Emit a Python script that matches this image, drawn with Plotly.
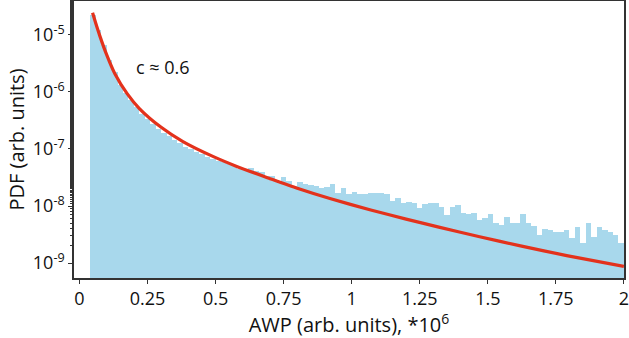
import plotly.graph_objects as go

# Histogram: left edges start at 0.04, bin width 0.02, up to 2.0
bin_start = 0.04
bin_width = 0.02
pdf_values = [
    2.24e-5, 1.23e-5, 6.6e-6, 3.6e-6, 2.24e-6, 1.32e-6, 9.5e-7, 7.2e-7, 5.5e-7, 4.1e-7,
    3.4e-7, 2.75e-7, 2.24e-7, 1.9e-7, 1.7e-7, 1.45e-7, 1.29e-7, 1.1e-7, 1.0e-7, 8.9e-8,
    8.1e-8, 7.2e-8, 6.6e-8, 6.2e-8, 5.9e-8, 5.5e-8, 5.3e-8, 4.5e-8, 4.3e-8, 4.7e-8,
    4.1e-8, 4.0e-8, 3.4e-8, 3.4e-8, 2.75e-8, 3.2e-8, 2.75e-8, 2.24e-8, 2.6e-8, 2.45e-8,
    2.35e-8, 2.24e-8, 2.1e-8, 2.15e-8, 2.45e-8, 1.7e-8, 2.1e-8, 1.62e-8, 1.78e-8, 1.62e-8,
    1.62e-8, 1.66e-8, 1.7e-8, 1.7e-8, 1.62e-8, 1.23e-8, 1.38e-8, 1.12e-8, 1.17e-8, 1.12e-8,
    9.1e-9, 1.07e-8, 1.12e-8, 1.12e-8, 9.6e-9, 6.9e-9, 9.6e-9, 1.05e-8, 7.6e-9, 7.2e-9,
    7.6e-9, 5.6e-9, 6.2e-9, 7.2e-9, 5.0e-9, 4.7e-9, 6.5e-9, 5.1e-9, 5.1e-9, 7.2e-9,
    5.0e-9, 4.5e-9, 3.1e-9, 4.0e-9, 3.8e-9, 3.5e-9, 3.5e-9, 3.8e-9, 2.75e-9, 4.3e-9,
    2.24e-9, 5.0e-9, 2.9e-9, 4.3e-9, 3.8e-9, 3.5e-9, 3.1e-9, 2.24e-9,
]
bin_centers = [round(bin_start + bin_width * (i + 0.5), 4) for i in range(len(pdf_values))]

# Fitted curve
fit_x = [0.048, 0.06, 0.075, 0.10, 0.13, 0.175, 0.22, 0.30, 0.38, 0.49, 0.58, 0.70,
         0.80, 0.92, 1.07, 1.20, 1.32, 1.47, 1.62, 1.79, 2.0]
fit_log = [-4.61, -4.80, -5.02, -5.35, -5.68, -6.03, -6.29, -6.62, -6.87, -7.13, -7.31, -7.52,
           -7.69, -7.87, -8.07, -8.23, -8.37, -8.54, -8.70, -8.87, -9.06]
fit_y = [10 ** v for v in fit_log]

x_tick_vals = [0, 0.25, 0.5, 0.75, 1, 1.25, 1.5, 1.75, 2]
x_tick_text = ["0", "0.25", "0.5", "0.75", "1", "1.25", "1.5", "1.75", "2"]
y_tick_vals = [1e-9, 1e-8, 1e-7, 1e-6, 1e-5]
y_tick_text = ["10<sup>-9</sup>", "10<sup>-8</sup>", "10<sup>-7</sup>", "10<sup>-6</sup>", "10<sup>-5</sup>"]

FONT = "Open Sans, sans-serif"
TXT = "#111111"

fig = go.Figure()
fig.add_trace(go.Bar(
    x=bin_centers, y=pdf_values, width=bin_width,
    marker=dict(color="#a8d8ec", line=dict(width=0)),
    showlegend=False, hoverinfo="skip",
))
fig.add_trace(go.Scatter(
    x=fit_x, y=fit_y, mode="lines",
    line=dict(color="#e3321c", width=3.2, shape="spline", smoothing=0.6),
    showlegend=False, hoverinfo="skip",
))

fig.add_annotation(
    x=0.307, y=-5.56, xref="x", yref="y", text="c ≈ 0.6", showarrow=False,
    font=dict(family=FONT, size=18, color=TXT),
)

fig.update_layout(
    width=629, height=338,
    margin=dict(l=74, r=5, t=1, b=60, autoexpand=False),
    paper_bgcolor="white", plot_bgcolor="white",
    bargap=0,
    font=dict(family=FONT, size=18, color=TXT),
)
fig.update_xaxes(
    range=[-0.0202, 2.0004], tickvals=x_tick_vals, ticktext=x_tick_text,
    showgrid=False, zeroline=False, automargin=False, ticklabeloverflow="allow",
    showline=True, linecolor="#333", linewidth=1.5, mirror=True,
    ticks="outside", ticklen=4, tickwidth=1, tickcolor="#333",
    tickfont=dict(family=FONT, size=18, color=TXT),
    title=dict(text="AWP (arb. units), *10<sup>6</sup>", font=dict(family=FONT, size=20, color=TXT), standoff=4),
)
fig.update_yaxes(
    type="log", range=[-9.263, -4.404], tickvals=y_tick_vals, ticktext=y_tick_text,
    showgrid=False, zeroline=False, automargin=False,
    showline=True, linecolor="#333", linewidth=1.5, mirror=True,
    ticks="outside", ticklen=4, tickwidth=1, tickcolor="#333",
    minor=dict(ticks="outside", ticklen=2, tickcolor="#333", showgrid=False),
    tickfont=dict(family=FONT, size=18, color=TXT),
    title=dict(text="PDF (arb. units)", font=dict(family=FONT, size=20, color=TXT), standoff=3),
)

fig.write_html(
    "out.html",
    config={"displayModeBar": False},
    post_script="document.body.style.margin='0';document.body.style.padding='0';",
)
